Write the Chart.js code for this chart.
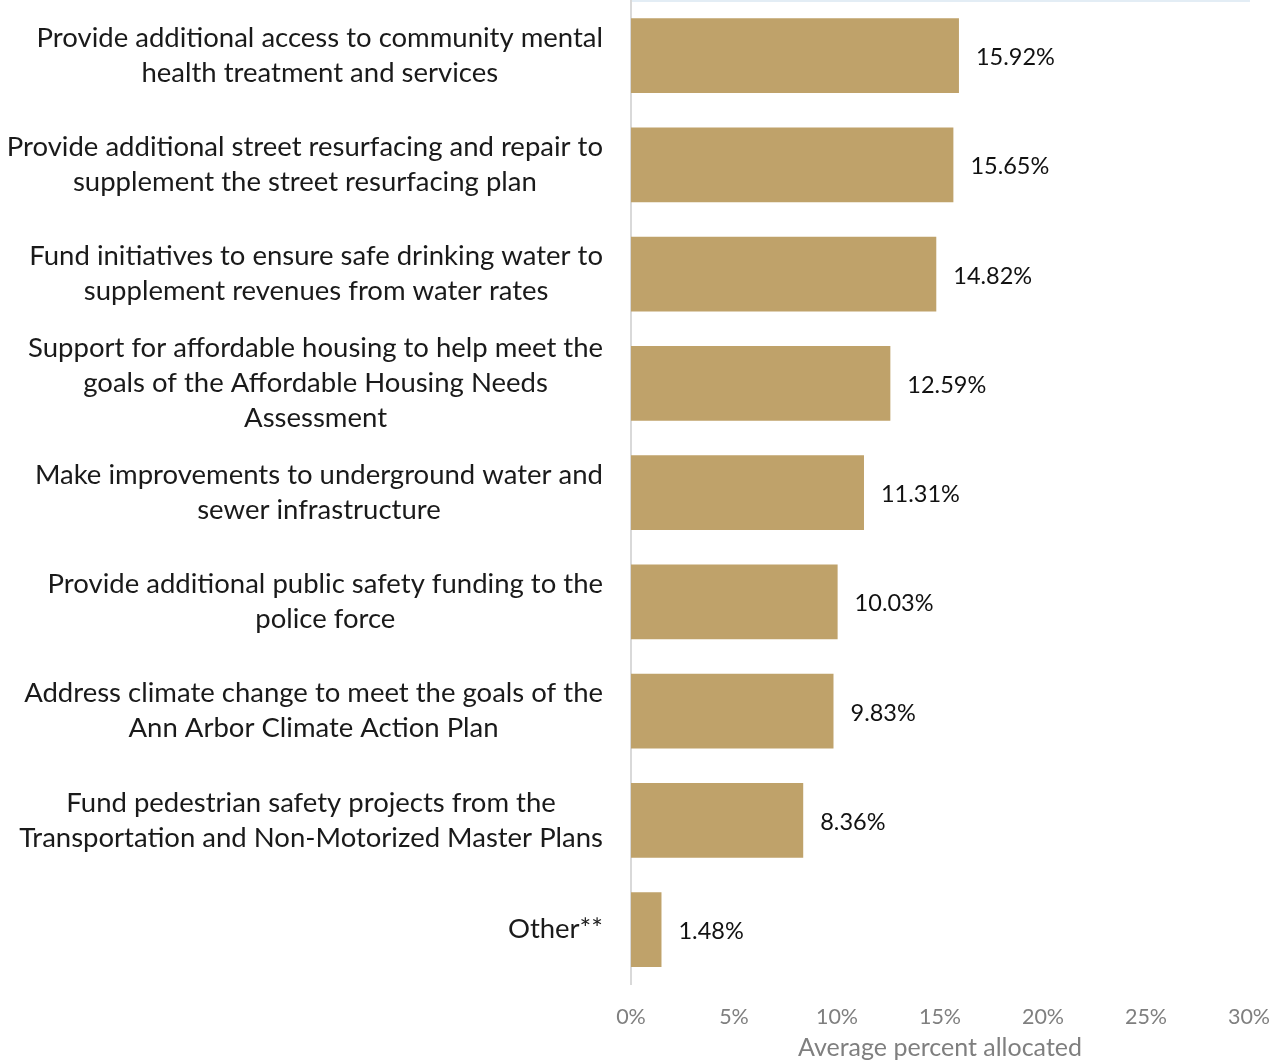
<!DOCTYPE html>
<html>
<head>
<meta charset="utf-8">
<script src="https://cdn.jsdelivr.net/npm/chart.js@4"></script>
<style>
  body { margin: 0; background: #fff; }
  canvas { display: block; }
</style>
</head>
<body>
<canvas id="allocChart" width="1281" height="1063"></canvas>
<script>
// Budget priorities - average percent allocated
const categories = [
  ['Provide additional access to community mental', 'health treatment and services'],
  ['Provide additional street resurfacing and repair to', 'supplement the street resurfacing plan'],
  ['Fund initiatives to ensure safe drinking water to', 'supplement revenues from water rates'],
  ['Support for affordable housing to help meet the', 'goals of the Affordable Housing Needs', 'Assessment'],
  ['Make improvements to underground water and', 'sewer infrastructure'],
  ['Provide additional public safety funding to the', 'police force'],
  ['Address climate change to meet the goals of the', 'Ann Arbor Climate Action Plan'],
  ['Fund pedestrian safety projects from the', 'Transportation and Non-Motorized Master Plans'],
  ['Other**']
];
const percents = [15.92, 15.65, 14.82, 12.59, 11.31, 10.03, 9.83, 8.36, 1.48];
const xTicks = [0, 5, 10, 15, 20, 25, 30];

const FONT = 'Lato, "Open Sans", sans-serif';

// draws the category labels: blocks right aligned, lines centred in each block
const labelPlugin = {
  id: 'catLabels',
  afterDraw(chart) {
    const ctx = chart.ctx;
    const yScale = chart.scales.y;
    const right = chart.chartArea.left - 28;
    const lineH = 35;
    ctx.save();
    ctx.font = '27.5px ' + FONT;
    ctx.fillStyle = '#1a1a1a';
    ctx.textAlign = 'center';
    ctx.textBaseline = 'middle';
    categories.forEach((lines, i) => {
      const y = yScale.getPixelForTick(i);
      const w = Math.max(...lines.map(l => ctx.measureText(l).width));
      const cx = right - w / 2;
      const y0 = y - (lines.length - 1) * lineH / 2;
      lines.forEach((l, j) => ctx.fillText(l, cx, y0 + j * lineH));
    });
    ctx.restore();
  }
};

// value labels after each bar
const valuePlugin = {
  id: 'valueLabels',
  afterDatasetsDraw(chart) {
    const ctx = chart.ctx;
    const meta = chart.getDatasetMeta(0);
    ctx.save();
    ctx.font = '23.5px ' + FONT;
    ctx.fillStyle = '#111';
    ctx.textAlign = 'left';
    ctx.textBaseline = 'middle';
    meta.data.forEach((bar, i) => {
      ctx.fillText(percents[i].toFixed(2) + '%', bar.x + 17, bar.y + 2);
    });
    ctx.restore();
  }
};

new Chart(document.getElementById('allocChart').getContext('2d'), {
  type: 'bar',
  data: {
    labels: categories.map(c => c.join(' ')),
    datasets: [{
      data: percents,
      backgroundColor: '#bfa26a',
      borderWidth: 0,
      categoryPercentage: 1,
      barPercentage: 0.685
    }]
  },
  options: {
    indexAxis: 'y',
    responsive: false,
    animation: false,
    layout: { padding: { left: 631, right: 32, top: 1, bottom: 0 } },
    plugins: { legend: { display: false }, tooltip: { enabled: false } },
    scales: {
      x: {
        min: 0,
        max: 30,
        afterBuildTicks(axis) { axis.ticks = xTicks.map(v => ({ value: v })); },
        afterFit(axis) { axis.paddingLeft = 0; axis.paddingRight = 0; },
        grid: { display: false, drawTicks: false },
        border: { display: false },
        ticks: {
          padding: 20,
          color: '#7f7f7f',
          font: { family: FONT, size: 21.5 },
          callback: v => v + '%'
        },
        title: {
          display: true,
          text: 'Average percent allocated',
          color: '#7f7f7f',
          font: { family: FONT, size: 25 },
          padding: { top: -17, bottom: 0 }
        }
      },
      xTop: {
        position: 'top',
        axis: 'x',
        display: true,
        grid: { display: false, drawTicks: false },
        border: { display: true, color: '#e3edf5', width: 2 },
        ticks: { display: false }
      },
      y: {
        grid: { display: false, drawTicks: false },
        border: { display: true, color: '#d9d9d9', width: 2 },
        ticks: { display: false }
      }
    }
  },
  plugins: [labelPlugin, valuePlugin]
});
</script>
</body>
</html>
